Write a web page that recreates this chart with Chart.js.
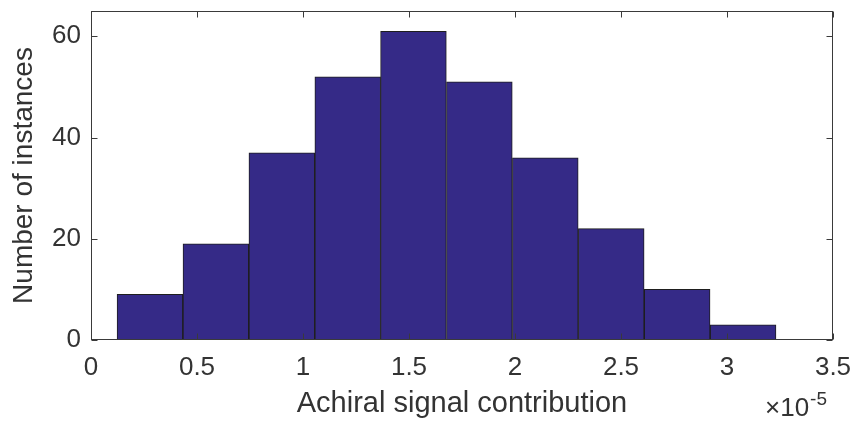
<!DOCTYPE html>
<html>
<head>
<meta charset="utf-8">
<script src="https://cdn.jsdelivr.net/npm/chart.js@4.4.0/dist/chart.umd.min.js"></script>
<style>
  html, body { margin: 0; padding: 0; background: #fff; }
  #wrap { width: 854px; height: 421px; }
</style>
</head>
<body>
<div id="wrap"><canvas id="hist"></canvas></div>
<script>
// bin centers (x 10^-5) and counts
var binCenters = [0.278, 0.589, 0.900, 1.211, 1.521, 1.832, 2.143, 2.454, 2.765, 3.076];
var counts = [9, 19, 37, 52, 61, 51, 36, 22, 10, 3];
var xTicks = [0, 0.5, 1, 1.5, 2, 2.5, 3, 3.5];
var yTicks = [0, 20, 40, 60];

var textColor = "#333333";
var fontFamily = "'Liberation Sans', Arial, Helvetica, sans-serif";

var points = [];
for (var i = 0; i < binCenters.length; i++) {
  points.push({x: binCenters[i], y: counts[i]});
}

// box frame + inward ticks like matlab
var framePlugin = {
  id: "frame",
  afterDraw: function(chart) {
    var ctx = chart.ctx;
    var a = chart.chartArea;
    var xs = chart.scales.x, ys = chart.scales.y;
    var L = Math.round(a.left) + 0.5, R = Math.round(a.right) - 0.5;
    var T = Math.round(a.top) + 0.5, B = Math.round(a.bottom) - 0.5;
    var tl = 6;
    ctx.save();
    ctx.strokeStyle = "#3a3a3a";
    ctx.lineWidth = 1;
    ctx.strokeRect(L, T, R - L, B - T);
    ctx.beginPath();
    xTicks.forEach(function(v) {
      var px = Math.round(xs.getPixelForValue(v)) + 0.5;
      ctx.moveTo(px, B); ctx.lineTo(px, B - tl);
      ctx.moveTo(px, T); ctx.lineTo(px, T + tl);
    });
    yTicks.forEach(function(v) {
      var py = Math.round(ys.getPixelForValue(v)) + 0.5;
      ctx.moveTo(L, py); ctx.lineTo(L + tl, py);
      ctx.moveTo(R, py); ctx.lineTo(R - tl, py);
    });
    ctx.stroke();
    // exponent label
    ctx.fillStyle = textColor;
    ctx.textBaseline = "alphabetic";
    ctx.textAlign = "left";
    ctx.font = "26px " + fontFamily;
    var base = a.right - 68;
    ctx.fillText("\u00d710", base, 416);
    var w = ctx.measureText("\u00d710").width;
    ctx.font = "19px " + fontFamily;
    ctx.fillText("-5", base + w + 1, 405);
    ctx.restore();
  }
};

var ctx = document.getElementById("hist");
var chart = new Chart(ctx, {
  type: "bar",
  data: {
    datasets: [{
      label: "",
      data: points,
      backgroundColor: "#352a87",
      borderColor: "#1e1e1e",
      borderWidth: 1,
      barPercentage: 1.0,
      categoryPercentage: 1.0
    }]
  },
  options: {
    responsive: true,
    maintainAspectRatio: false,
    animation: false,
    layout: { padding: { left: 0, right: 21, top: 11, bottom: 0 } },
    plugins: {
      legend: { display: false },
      tooltip: { enabled: false }
    },
    scales: {
      x: {
        type: "linear",
        min: 0, max: 3.5,
        offset: false,
        grid: { display: false, drawTicks: false },
        border: { display: false },
        afterBuildTicks: function(s) { s.ticks = xTicks.map(function(v){ return {value: v}; }); },
        afterFit: function(s) { s.height = 81; s.paddingLeft = 0; s.paddingRight = 0; },
        ticks: {
          color: textColor, padding: 12,
          font: { family: fontFamily, size: 26 },
          maxRotation: 0, autoSkip: false,
          callback: function(v) { return String(v); }
        },
        title: {
          display: true, text: "Achiral signal contribution",
          color: textColor, font: { family: fontFamily, size: 29 },
          padding: { top: 0, bottom: 0 }
        }
      },
      y: {
        min: 0, max: 65,
        grid: { display: false, drawTicks: false },
        border: { display: false },
        afterBuildTicks: function(s) { s.ticks = yTicks.map(function(v){ return {value: v}; }); },
        afterFit: function(s) { s.width = 91; s.paddingTop = 0; s.paddingBottom = 0; },
        ticks: {
          color: textColor, padding: 10,
          font: { family: fontFamily, size: 26 }
        },
        title: {
          display: true, text: "Number of instances",
          color: textColor, font: { family: fontFamily, size: 28 },
          padding: { top: 7, bottom: 0 }
        }
      }
    }
  },
  plugins: [framePlugin]
});
</script>
</body>
</html>
